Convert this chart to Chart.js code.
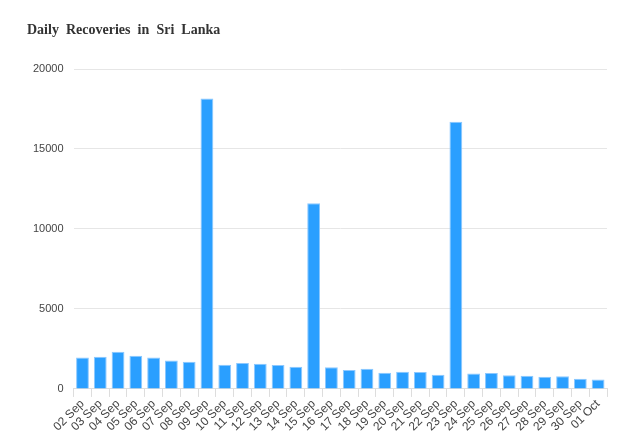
<!DOCTYPE html>
<html>
<head>
<meta charset="utf-8">
<script src="https://cdn.jsdelivr.net/npm/chart.js@4"></script>
<style>
  body { margin: 0; background: #fff; }
  #wrap { position: relative; width: 631px; height: 443px; }
  #title {
    position: absolute; left: 27px; top: 22px;
    font: bold 14px "Liberation Serif", "Times New Roman", serif;
    word-spacing: 3.6px; color: #333;
  }
</style>
</head>
<body>
<div id="wrap">
  <div id="title">Daily Recoveries in Sri Lanka</div>
  <canvas id="recoveryChart" width="631" height="443"></canvas>
</div>
<script>
// dates on the x axis
var days = ['02 Sep', '03 Sep', '04 Sep', '05 Sep', '06 Sep', '07 Sep', '08 Sep', '09 Sep',
    '10 Sep', '11 Sep', '12 Sep', '13 Sep', '14 Sep', '15 Sep', '16 Sep', '17 Sep',
    '18 Sep', '19 Sep', '20 Sep', '21 Sep', '22 Sep', '23 Sep', '24 Sep', '25 Sep',
    '26 Sep', '27 Sep', '28 Sep', '29 Sep', '30 Sep', '01 Oct'];

// recoveries per day
var recoveries = [1960, 2010, 2320, 2080, 1960, 1770, 1700, 18150,
    1510, 1620, 1580, 1500, 1390, 11600, 1350, 1180,
    1260, 1010, 1070, 1060, 880, 16700, 970, 1000,
    860, 820, 760, 790, 630, 590];

var yTicks = [0, 5000, 10000, 15000, 20000];

new Chart(document.getElementById('recoveryChart'), {
    type: 'bar',
    data: {
        labels: days,
        datasets: [{
            label: 'Recoveries',
            data: recoveries,
            backgroundColor: '#2a9fff',
            borderColor: '#8cc8ff',
            borderWidth: 1,
            categoryPercentage: 0.8,
            barPercentage: 0.9
        }]
    },
    options: {
        responsive: false,
        animation: false,
        layout: { padding: { left: 23, right: 24, top: 69, bottom: 9 } },
        plugins: {
            legend: { display: false },
            tooltip: { enabled: false }
        },
        scales: {
            x: {
                grid: { drawOnChartArea: false, color: '#dddddd', tickLength: 8 },
                border: { color: '#dddddd' },
                ticks: {
                    color: '#444',
                    font: { family: 'Liberation Sans, Arial, sans-serif', size: 12 },
                    maxRotation: 45,
                    minRotation: 45,
                    autoSkip: false,
                    padding: 0
                }
            },
            y: {
                min: yTicks[0],
                max: yTicks[yTicks.length - 1],
                afterBuildTicks: function (axis) {
                    axis.ticks = yTicks.map(function (v) { return { value: v }; });
                },
                grid: { color: '#e6e6e6', drawTicks: false },
                border: { display: false },
                ticks: {
                    color: '#444',
                    font: { family: 'Liberation Sans, Arial, sans-serif', size: 11 },
                    padding: 10,
                    callback: function (v) { return String(v); }
                }
            }
        }
    }
});
</script>
</body>
</html>
